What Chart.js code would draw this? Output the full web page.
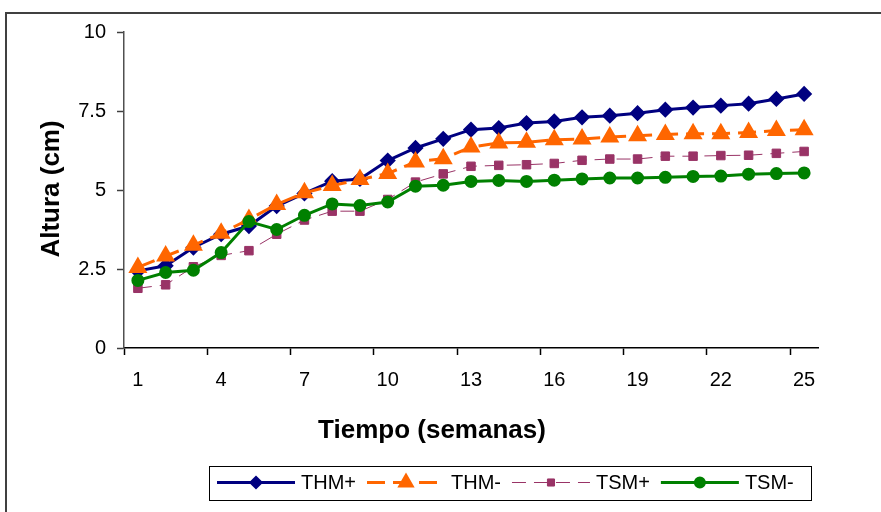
<!DOCTYPE html>
<html>
<head>
<meta charset="utf-8">
<title>Altura (cm) vs Tiempo (semanas)</title>
<script src="https://cdn.jsdelivr.net/npm/chart.js@4/dist/chart.umd.min.js"></script>
<style>
  html, body { margin: 0; padding: 0; background: #ffffff; }
  #grafico { display: block; }
</style>
</head>
<body>
<canvas id="grafico" width="881" height="512"></canvas>
<script>
// Datos
var semanas = ['1', '2', '3', '4', '5', '6', '7', '8', '9', '10', '11', '12', '13',
               '14', '15', '16', '17', '18', '19', '20', '21', '22', '23', '24', '25'];
var marcasY = [0, 2.5, 5, 7.5, 10];
var series = ['THM+', 'THM-', 'TSM+', 'TSM-'];

var thmMas   = [2.44, 2.60, 3.18, 3.60, 3.86, 4.49, 4.89, 5.28, 5.35, 5.93, 6.33, 6.62, 6.91,
                6.96, 7.12, 7.17, 7.30, 7.35, 7.43, 7.54, 7.61, 7.67, 7.73, 7.88, 8.04];
var thmMenos = [2.55, 2.91, 3.25, 3.63, 4.07, 4.54, 4.91, 5.14, 5.33, 5.52, 5.89, 5.99, 6.36,
                6.49, 6.51, 6.59, 6.61, 6.68, 6.72, 6.76, 6.78, 6.78, 6.82, 6.88, 6.91];
var tsmMas   = [1.89, 2.00, 2.57, 2.93, 3.08, 3.60, 4.05, 4.33, 4.33, 4.70, 5.25, 5.51, 5.75,
                5.78, 5.80, 5.84, 5.94, 5.98, 5.98, 6.07, 6.07, 6.09, 6.10, 6.16, 6.22];
var tsmMenos = [2.14, 2.39, 2.46, 3.02, 4.00, 3.75, 4.20, 4.56, 4.51, 4.62, 5.12, 5.15, 5.27,
                5.30, 5.27, 5.31, 5.35, 5.38, 5.38, 5.40, 5.43, 5.44, 5.50, 5.52, 5.54];

var fuente = '"Liberation Sans", Arial, sans-serif';

// Marco exterior, titulos de ejes y leyenda estilo Excel
var decoracion = {
    id: 'decoracion',
    beforeDraw: function (chart) {
        var ctx = chart.ctx;
        ctx.save();
        ctx.fillStyle = '#ffffff';
        ctx.fillRect(0, 0, chart.width, chart.height);
        ctx.strokeStyle = '#404040';
        ctx.lineWidth = 2;
        ctx.strokeRect(6, 13, 1000, 1000);
        ctx.restore();
    },
    afterDraw: function (chart) {
        var ctx = chart.ctx;
        ctx.save();
        ctx.fillStyle = '#000000';
        ctx.font = 'bold 26px ' + fuente;
        ctx.textAlign = 'center';
        ctx.textBaseline = 'alphabetic';
        ctx.fillText('Tiempo (semanas)', 432, 438);

        ctx.save();
        ctx.translate(59, 189);
        ctx.rotate(-Math.PI / 2);
        ctx.fillText('Altura (cm)', 0, 0);
        ctx.restore();

        // leyenda
        ctx.strokeStyle = '#000000';
        ctx.lineWidth = 1;
        ctx.strokeRect(209.5, 466.5, 602, 34);

        var yMid = 482.5;
        var x = 217;
        ctx.font = '20px ' + fuente;
        ctx.textAlign = 'left';
        ctx.textBaseline = 'middle';
        chart.data.datasets.forEach(function (ds) {
            ctx.save();
            ctx.strokeStyle = ds.borderColor;
            ctx.lineWidth = ds.borderWidth;
            ctx.setLineDash(ds.borderDash || []);
            ctx.beginPath();
            ctx.moveTo(x, yMid);
            ctx.lineTo(x + 78, yMid);
            ctx.stroke();
            ctx.setLineDash([]);
            ctx.fillStyle = ds.pointBackgroundColor;
            ctx.strokeStyle = ds.pointBorderColor;
            Chart.helpers.drawPoint(ctx, {
                pointStyle: ds.pointStyle,
                radius: ds.legendRadius,
                rotation: 0,
                borderWidth: 1
            }, x + 39, yMid);
            ctx.restore();
            ctx.fillStyle = '#000000';
            ctx.fillText(ds.label, x + 84, yMid + 1);
            x += 84 + ctx.measureText(ds.label).width + 11;
        });
        ctx.restore();
    }
};

function inicializarGrafico() {
    new Chart(document.getElementById('grafico').getContext('2d'), {
        type: 'line',
        data: {
            labels: semanas,
            datasets: [{
                label: series[0],
                data: thmMas,
                borderColor: '#000080',
                borderWidth: 3,
                pointStyle: 'rectRot',
                pointRadius: 6,
                legendRadius: 5,
                pointBackgroundColor: '#000080',
                pointBorderColor: '#000080',
                order: 3
            }, {
                label: series[1],
                data: thmMenos,
                borderColor: '#FF6600',
                borderWidth: 3,
                borderDash: [18, 8],
                pointStyle: 'triangle',
                pointRadius: 8,
                legendRadius: 7,
                pointBackgroundColor: '#FF6600',
                pointBorderColor: '#FF6600',
                order: 2
            }, {
                label: series[2],
                data: tsmMas,
                borderColor: '#993366',
                borderWidth: 1,
                borderDash: [14, 8],
                pointStyle: 'rect',
                pointRadius: 6,
                legendRadius: 5,
                pointBackgroundColor: '#993366',
                pointBorderColor: '#993366',
                order: 1
            }, {
                label: series[3],
                data: tsmMenos,
                borderColor: '#008000',
                borderWidth: 3,
                pointStyle: 'circle',
                pointRadius: 5,
                legendRadius: 4.5,
                pointBackgroundColor: '#008000',
                pointBorderColor: '#008000',
                order: 0
            }]
        },
        options: {
            responsive: false,
            animation: false,
            tension: 0,
            layout: { padding: { left: 5, top: 32, right: 63, bottom: 12 } },
            plugins: {
                legend: { display: false },
                tooltip: { enabled: false }
            },
            scales: {
                x: {
                    type: 'category',
                    offset: true,
                    afterFit: function (scale) { scale.height = 152; },
                    border: { display: true, color: '#000000', width: 1.5 },
                    grid: {
                        offset: true,
                        drawOnChartArea: false,
                        drawTicks: true,
                        tickLength: 7,
                        tickWidth: 1.5,
                        tickColor: function (c) {
                            return c.index % 3 === 0 ? '#000000' : 'rgba(0,0,0,0)';
                        }
                    },
                    ticks: {
                        autoSkip: false,
                        maxRotation: 0,
                        padding: 13,
                        color: '#000000',
                        font: { family: fuente, size: 20 },
                        callback: function (v, i) {
                            return i % 3 === 0 ? semanas[i] : '';
                        }
                    }
                },
                y: {
                    min: 0,
                    max: 10,
                    afterFit: function (scale) { scale.width = 119; },
                    afterBuildTicks: function (scale) {
                        scale.ticks = marcasY.map(function (v) { return { value: v }; });
                    },
                    border: { display: true, color: '#505050', width: 1.5 },
                    grid: {
                        drawOnChartArea: false,
                        drawTicks: true,
                        tickLength: 7,
                        tickWidth: 1.5,
                        tickColor: '#404040'
                    },
                    ticks: {
                        padding: 11,
                        color: '#000000',
                        font: { family: fuente, size: 20 }
                    }
                }
            }
        },
        plugins: [decoracion]
    });
}

window.onload = inicializarGrafico;
</script>
</body>
</html>
